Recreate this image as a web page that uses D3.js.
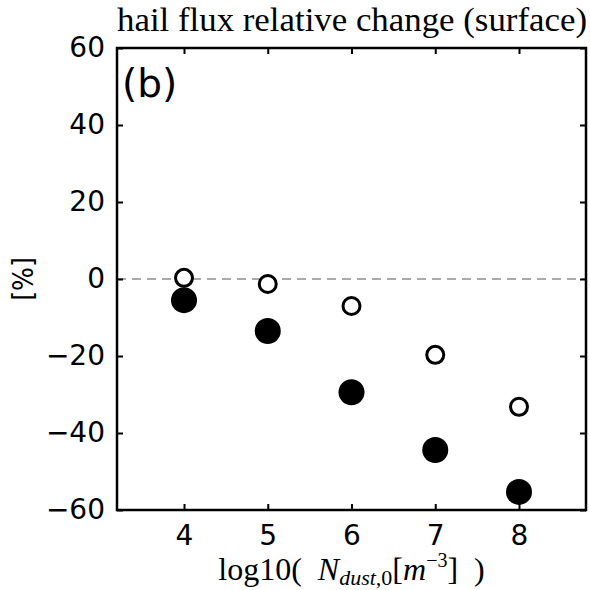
<!DOCTYPE html>
<html>
<head>
<meta charset="utf-8">
<script src="https://cdn.jsdelivr.net/npm/d3@7"></script>
<style>
  body { margin: 0; background: #fff; }
  .tick text { font-family: "DejaVu Sans", sans-serif; }
</style>
</head>
<body>
<div id="chart"></div>
<script>
// values
var xValues = [4, 5, 6, 7, 8];
var openValues = [0.3, -1.3, -7, -19.7, -33.2];
var filledValues = [-5.5, -13.5, -29.4, -44.4, -55.3];
var yTicks = [-60, -40, -20, 0, 20, 40, 60];

var width = 590, height = 590;
var mLeft = 117, mRight = 586, mTop = 48, mBottom = 510;

var svg = d3.select("#chart")
  .append("svg")
    .attr("width", width)
    .attr("height", height);

var x = d3.scaleLinear().domain([3.2, 8.8]).range([mLeft, mRight]);
var y = d3.scaleLinear().domain([-60, 60]).range([mBottom, mTop]);

// zero line
svg.append("line")
  .attr("x1", mLeft).attr("x2", mRight)
  .attr("y1", y(0)).attr("y2", y(0))
  .attr("stroke", "#aaa").attr("stroke-width", 2)
  .attr("stroke-dasharray", "9,6");

// axes, ticks pointing inward
function styleAxis(g) {
  g.select(".domain").remove();
  g.selectAll(".tick line").attr("stroke", "#000").attr("stroke-width", 2);
  g.selectAll(".tick text").attr("fill", "#000").style("font-size", "28px");
}

svg.append("g")
  .attr("transform", "translate(0," + mBottom + ")")
  .call(d3.axisBottom(x).tickValues(xValues).tickSize(-6).tickPadding(15).tickFormat(d3.format("d")))
  .call(styleAxis);

svg.append("g")
  .attr("transform", "translate(0," + mTop + ")")
  .call(d3.axisTop(x).tickValues(xValues).tickSize(-6).tickFormat(""))
  .call(styleAxis);

svg.append("g")
  .attr("transform", "translate(" + mLeft + ",0)")
  .call(d3.axisLeft(y).tickValues(yTicks).tickSize(-6).tickPadding(12)
    .tickFormat(function(d) { return d < 0 ? "\u2212" + (-d) : d; }))
  .call(styleAxis);

svg.append("g")
  .attr("transform", "translate(" + mRight + ",0)")
  .call(d3.axisRight(y).tickValues(yTicks).tickSize(-6).tickFormat(""))
  .call(styleAxis);

svg.append("rect")
  .attr("x", mLeft).attr("y", mTop)
  .attr("width", mRight - mLeft).attr("height", mBottom - mTop)
  .attr("fill", "none").attr("stroke", "#000").attr("stroke-width", 2.5);

// points
svg.append("g").selectAll("circle")
  .data(xValues)
  .enter()
  .append("circle")
    .attr("cx", function(d) { return x(d); })
    .attr("cy", function(d, i) { return y(filledValues[i]); })
    .attr("r", 13)
    .attr("fill", "#000");

svg.append("g").selectAll("circle")
  .data(xValues)
  .enter()
  .append("circle")
    .attr("cx", function(d) { return x(d); })
    .attr("cy", function(d, i) { return y(openValues[i]); })
    .attr("r", 8.5)
    .attr("fill", "#fff")
    .attr("stroke", "#000")
    .attr("stroke-width", 3);

// title
svg.append("text")
  .attr("x", 117)
  .attr("y", 31)
  .attr("textLength", 470)
  .attr("lengthAdjust", "spacingAndGlyphs")
  .style("font-family", "'Liberation Serif', serif")
  .style("font-size", "33px")
  .text("hail flux relative change (surface)");

// panel label
svg.append("text")
  .attr("x", 122)
  .attr("y", 97)
  .style("font-family", "'DejaVu Sans', sans-serif")
  .style("font-size", "39px")
  .text("(b)");

// y label
svg.append("text")
  .attr("transform", "translate(33," + y(0) + ") rotate(-90)")
  .attr("text-anchor", "middle")
  .style("font-family", "'DejaVu Sans', sans-serif")
  .style("font-stretch", "condensed")
  .style("font-size", "28px")
  .text("[%]");

// x label
var xl = svg.append("text")
  .attr("x", (mLeft + mRight) / 2)
  .attr("y", 580)
  .attr("text-anchor", "middle")
  .style("font-family", "'Liberation Serif', serif")
  .style("font-size", "32px");
xl.append("tspan").text("log10(\u2002");
xl.append("tspan").style("font-style", "italic").text("N");
xl.append("tspan").style("font-style", "italic").style("font-size", "22px").attr("dy", 5).text("dust,");
xl.append("tspan").style("font-size", "22px").text("0");
xl.append("tspan").attr("dy", -5).text("[");
xl.append("tspan").style("font-style", "italic").text("m");
xl.append("tspan").style("font-size", "20px").attr("dy", -13).text("\u22123");
xl.append("tspan").attr("dy", 13).text("]\u2002)");
</script>
</body>
</html>
